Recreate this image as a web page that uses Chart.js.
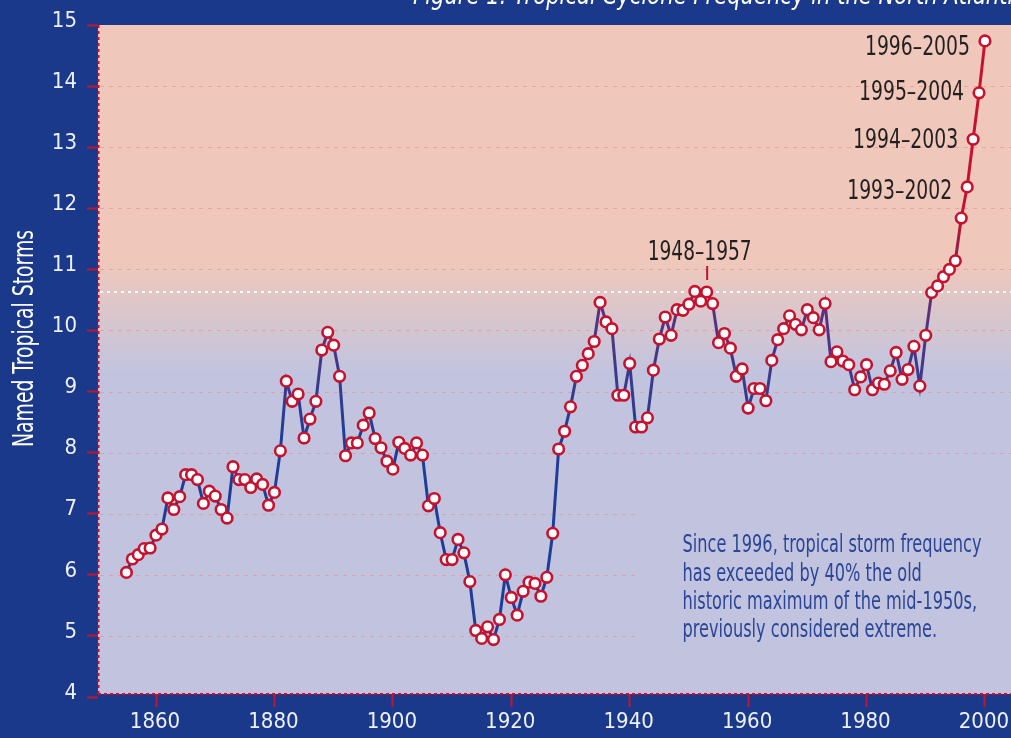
<!DOCTYPE html>
<html><head><meta charset="utf-8">
<script src="https://cdn.jsdelivr.net/npm/chart.js@4.4.1/dist/chart.umd.min.js"></script>
<style>html,body{margin:0;padding:0;background:#1b398b;overflow:hidden}canvas{display:block}</style>
</head><body>
<canvas id="c" width="1011" height="738"></canvas>
<script>
// ---------- DATA ----------
const years = [1855,1856,1857,1858,1859,1860,1861,1862,1863,1864,1865,1866,1867,1868,1869,1870,1871,1872,1873,1874,1875,1876,1877,1878,1879,
1880,1881,1882,1883,1884,1885,1886,1887,1888,1889,1890,1891,1892,1893,1894,1895,1896,1897,1898,1899,
1900,1901,1902,1903,1904,1905,1906,1907,1908,1909,1910,1911,1912,1913,1914,1915,1916,1917,1918,1919,
1920,1921,1922,1923,1924,1925,1926,1927,1928,1929,1930,1931,1932,1933,1934,1935,1936,1937,1938,1939,
1940,1941,1942,1943,1944,1945,1946,1947,1948,1949,1950,1951,1952,1953,1954,1955,1956,1957,1958,1959,
1960,1961,1962,1963,1964,1965,1966,1967,1968,1969,1970,1971,1972,1973,1974,1975,1976,1977,1978,1979,
1980,1981,1982,1983,1984,1985,1986,1987,1988,1989,1990,1991,1992,1993,1994,1995,1996,1997,1998,1999,2000];
const storms = [6.04,6.26,6.33,6.43,6.44,6.65,6.75,7.26,7.07,7.28,7.64,7.64,7.56,7.17,7.37,7.29,7.07,6.93,7.77,7.56,7.56,7.43,7.57,7.48,7.14,
7.35,8.03,9.17,8.84,8.96,8.24,8.55,8.84,9.68,9.97,9.76,9.25,7.95,8.16,8.16,8.45,8.65,8.23,8.08,7.86,
7.73,8.17,8.07,7.96,8.16,7.96,7.13,7.25,6.69,6.25,6.25,6.58,6.36,5.89,5.09,4.96,5.15,4.94,5.27,6.00,
5.63,5.34,5.73,5.88,5.86,5.65,5.96,6.68,8.06,8.35,8.75,9.25,9.43,9.62,9.82,10.46,10.14,10.03,8.94,8.94,
9.46,8.42,8.42,8.57,9.35,9.86,10.22,9.92,10.34,10.33,10.43,10.64,10.48,10.63,10.44,9.80,9.95,9.71,9.25,9.37,
8.73,9.05,9.05,8.85,9.51,9.85,10.03,10.24,10.10,10.01,10.34,10.21,10.01,10.44,9.49,9.65,9.50,9.44,9.03,9.24,
9.44,9.03,9.14,9.12,9.34,9.64,9.20,9.36,9.74,9.09,9.92,10.62,10.73,10.88,11.00,11.14,11.84,12.35,13.13,13.89,14.74];
const yTickValues = [4,5,6,7,8,9,10,11,12,13,14,15];
const xTickValues = [1860,1880,1900,1920,1940,1960,1980,2000];
const oldMaximum = 10.63;
const peakLabel = '1948–1957';
const peakYear = 1953;
const windowYears = [1997,1998,1999,2000];
const windowLabels = ['1993–2002','1994–2003','1995–2004','1996–2005'];
const noteLines = ['Since 1996, tropical storm frequency','has exceeded by 40% the old','historic maximum of the mid-1950s,','previously considered extreme.'];
const titleText = 'Figure 1: Tropical Cyclone Frequency in the North Atlantic';
const yTitleText = 'Named Tropical Storms';

// ---------- STYLE / LAYOUT ----------
const FONT = "'Liberation Sans Narrow','DejaVu Sans Condensed','Liberation Sans',sans-serif";
const C = {
  frame:'#1b398b', pink:'#efc8bb', lavender:'#c2c4df', red:'#c6122f',
  blue:'#1f3d96', purpleBlue:'#3b3a8a', purple:'#553381', magenta:'#7c2458',
  grid:'rgba(238,135,125,0.55)', ink:'#231f20', note:'#2b4596', tick:'#eef0f8'
};
const L = { left:98, top:25, xAxisH:44, gridCutX:636, windowDX:-15, windowDY:[11.6,8.3,6.7,13.7] };

function drawFitted(ctx, text, x, y, size, targetW, align, color, style, sxOverride) {
  ctx.save();
  ctx.font = (style ? style + ' ' : '') + size + 'px ' + FONT;
  const sx = sxOverride || (targetW ? targetW / ctx.measureText(text).width : 1);
  ctx.translate(x, y); ctx.scale(sx, 1);
  ctx.textAlign = align; ctx.textBaseline = 'alphabetic';
  ctx.fillStyle = color; ctx.fillText(text, 0, 0);
  ctx.restore();
  return sx;
}

function lineGradient(chart) {
  const a = chart.chartArea; if (!a) return C.blue;
  const y = chart.scales.y;
  const g = chart.ctx.createLinearGradient(0, a.bottom, 0, a.top);
  const f = v => Math.min(1, Math.max(0, (a.bottom - y.getPixelForValue(v)) / (a.bottom - a.top)));
  g.addColorStop(0, C.blue);
  g.addColorStop(f(8.2), C.blue);
  g.addColorStop(f(9.2), C.purpleBlue);
  g.addColorStop(f(10.2), C.purple);
  g.addColorStop(f(11.0), C.magenta);
  g.addColorStop(f(11.9), C.red);
  g.addColorStop(1, C.red);
  return g;
}

const decor = {
  id:'decor',
  beforeDraw(chart) {
    const {ctx, chartArea:a, width, height} = chart;
    ctx.save();
    ctx.fillStyle = C.frame; ctx.fillRect(0,0,width,height);
    const g = ctx.createLinearGradient(0, a.top, 0, a.bottom);
    const s = py => (py - a.top) / (a.bottom - a.top);
    g.addColorStop(0, C.pink); g.addColorStop(s(262), C.pink);
    g.addColorStop(s(372), C.lavender); g.addColorStop(1, C.lavender);
    ctx.fillStyle = g; ctx.fillRect(a.left, a.top, a.right - a.left, a.bottom - a.top);
    drawFitted(ctx, titleText, 413, 4, 26, 612, 'left', '#ffffff', 'italic');
    ctx.restore();
  },
  beforeDatasetsDraw(chart) {
    const {ctx, chartArea:a, scales:{y}} = chart;
    ctx.save();
    ctx.lineWidth = 1.2; ctx.setLineDash([4,5]); ctx.strokeStyle = C.grid;
    yTickValues.forEach(v => {
      if (v <= yTickValues[0] || v >= yTickValues[yTickValues.length-1]) return;
      const py = Math.round(y.getPixelForValue(v)) + 0.5;
      const xe = v <= 7 ? L.gridCutX : a.right;
      ctx.beginPath(); ctx.moveTo(a.left + 2, py); ctx.lineTo(xe, py); ctx.stroke();
    });
    ctx.lineWidth = 2; ctx.setLineDash([3,4]); ctx.strokeStyle = 'rgba(255,255,255,0.95)';
    const pm = Math.round(y.getPixelForValue(oldMaximum));
    ctx.beginPath(); ctx.moveTo(a.left + 2, pm); ctx.lineTo(a.right, pm); ctx.stroke();
    ctx.lineWidth = 2; ctx.setLineDash([3,3]); ctx.strokeStyle = C.red;
    ctx.beginPath(); ctx.moveTo(a.left + 0.5, a.top); ctx.lineTo(a.left + 0.5, a.bottom); ctx.stroke();
    ctx.beginPath(); ctx.moveTo(a.left, a.bottom); ctx.lineTo(a.right, a.bottom); ctx.stroke();
    ctx.restore();
  },
  afterDatasetsDraw(chart) {
    const {ctx, scales:{x,y}} = chart;
    ctx.save();
    const px = x.getPixelForValue(peakYear);
    drawFitted(ctx, peakLabel, px - 7, 260, 27, 104, 'center', C.ink);
    ctx.strokeStyle = C.red; ctx.lineWidth = 2; ctx.setLineDash([]);
    ctx.beginPath(); ctx.moveTo(px + 0.5, 266); ctx.lineTo(px + 0.5, 280); ctx.stroke();
    windowYears.forEach((yr, i) => {
      const idx = years.indexOf(yr);
      const wx = x.getPixelForValue(yr) + L.windowDX;
      const wy = y.getPixelForValue(storms[idx]) + L.windowDY[i];
      drawFitted(ctx, windowLabels[i], wx, wy, 27, 105, 'right', C.ink);
    });
    let sx = null;
    const base = [552, 580.5, 609, 637];
    noteLines.forEach((t, i) => {
      const r = drawFitted(ctx, t, 682.5, base[i], 25, i === 0 ? 299 : null, 'left', C.note, '', sx);
      if (i === 0) sx = r;
    });
    ctx.translate(33, 338.5); ctx.rotate(-Math.PI / 2);
    drawFitted(ctx, yTitleText, 0, 0, 28, 217, 'center', '#ffffff');
    ctx.restore();
  }
};

const tickFont = {family: FONT, size: 22, lineHeight: 1.2};

new Chart(document.getElementById('c'), {
  type: 'line',
  data: { datasets: [{
    data: years.map((yr, i) => ({x: yr, y: storms[i]})),
    borderColor: ctx => lineGradient(ctx.chart),
    borderWidth: 3,
    pointRadius: 5.3, pointHoverRadius: 5.3,
    pointBorderWidth: 2.6, pointHoverBorderWidth: 2.6,
    pointBackgroundColor: '#ffffff', pointBorderColor: C.red,
    tension: 0, clip: false
  }]},
  options: {
    responsive: false, animation: false, events: [], devicePixelRatio: 1,
    layout: { autoPadding: false, padding: { top: L.top, left: 0, right: 0, bottom: 0 } },
    plugins: { legend: {display: false}, tooltip: {enabled: false} },
    scales: {
      x: {
        type: 'linear', position: 'bottom', min: 1850.2, max: 2004.4,
        afterBuildTicks: s => { s.ticks = xTickValues.map(v => ({value: v})); },
        afterFit: s => { s.height = L.xAxisH; s.paddingLeft = 0; s.paddingRight = 0; },
        grid: { drawOnChartArea: false, drawTicks: true, tickLength: 13, tickColor: C.red, tickWidth: 2, color: 'rgba(0,0,0,0)' },
        border: { display: false },
        ticks: { color: C.tick, font: tickFont, padding: 2, maxRotation: 0, autoSkip: false, labelOffset: -1, callback: v => String(v) }
      },
      y: {
        type: 'linear', position: 'left', min: 4.05, max: 15,
        afterBuildTicks: s => { s.ticks = yTickValues.map(v => ({value: v})); },
        afterFit: s => { s.width = L.left; s.paddingTop = 0; s.paddingBottom = 0; },
        grid: { drawOnChartArea: false, drawTicks: true, tickLength: 11, tickColor: C.red, tickWidth: 2, color: 'rgba(0,0,0,0)' },
        border: { display: false },
        ticks: { color: C.tick, font: tickFont, padding: 10, labelOffset: -4, autoSkip: false, callback: v => String(v) }
      }
    }
  },
  plugins: [decor]
});
</script>
</body></html>
